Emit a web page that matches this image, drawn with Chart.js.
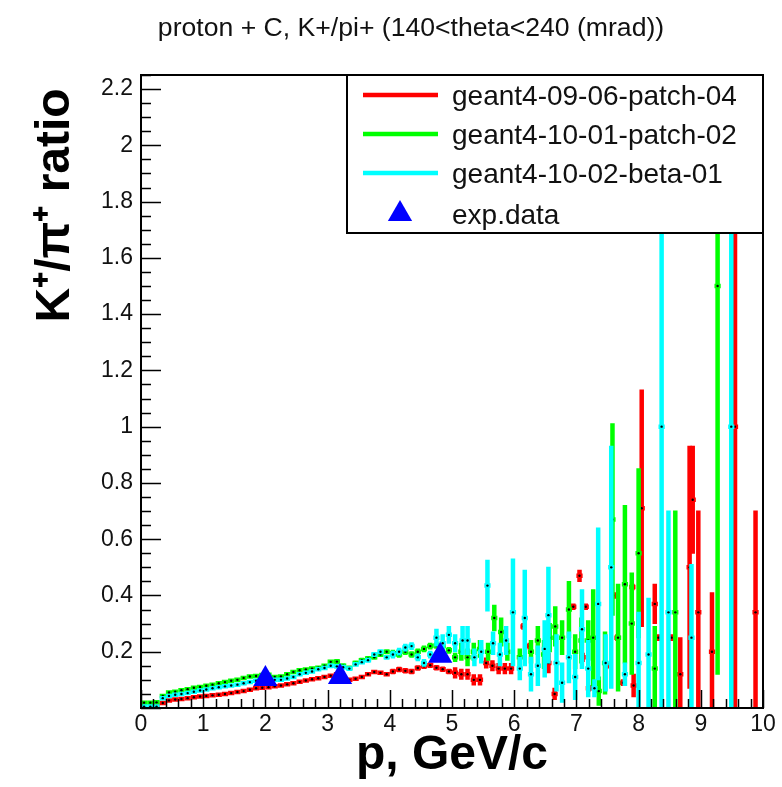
<!DOCTYPE html>
<html>
<head>
<meta charset="utf-8">
<script src="https://cdn.jsdelivr.net/npm/chart.js@4/dist/chart.umd.min.js"></script>
<style>
  html, body { margin: 0; padding: 0; background: #fff; }
  #wrap { width: 782px; height: 787px; }
</style>
</head>
<body>
<div id="wrap"><canvas id="ratioChart" width="782" height="787"></canvas></div>
<script>
const chartTitle = 'proton + C, K+/pi+ (140<theta<240 (mrad))'
const seriesNames = ['geant4-09-06-patch-04', 'geant4-10-01-patch-02', 'geant4-10-02-beta-01', 'exp.data']
const seriesColors = ['#ff0000', '#00ff00', '#00ffff', '#0000ff']
const xTicks = [0, 1, 2, 3, 4, 5, 6, 7, 8, 9, 10]
const yTicks = [0.2, 0.4, 0.6, 0.8, 1, 1.2, 1.4, 1.6, 1.8, 2, 2.2]
const binHalfWidth = 0.05

// geant4-09-06-patch-04
const redX = [0.25, 0.35, 0.45, 0.55, 0.65, 0.75, 0.85, 0.95,
  1.05, 1.15, 1.25, 1.35, 1.45, 1.55, 1.65, 1.75, 1.85, 1.95,
  2.05, 2.15, 2.25, 2.35, 2.45, 2.55, 2.65, 2.75, 2.85, 2.95,
  3.05, 3.15, 3.25, 3.35, 3.45, 3.55, 3.65, 3.75, 3.85, 3.95,
  4.05, 4.15, 4.25, 4.35, 4.45, 4.55, 4.65, 4.75, 4.85, 4.95,
  5.05, 5.15, 5.25, 5.35, 5.45, 5.55, 5.65, 5.75, 5.85, 5.95,
  6.15, 6.25, 6.55, 6.65, 6.95, 7.05, 7.1, 7.15, 7.2, 7.48, 7.6, 7.66, 7.75, 7.9, 7.92,
  8.05, 8.26, 8.32, 8.53, 8.67, 8.82, 8.87, 8.96, 9.18, 9.55, 9.88]
const redY = [0.008, 0.018, 0.027, 0.03, 0.032, 0.035, 0.038, 0.041,
  0.043, 0.045, 0.047, 0.05, 0.053, 0.057, 0.06, 0.065, 0.07, 0.072,
  0.074, 0.077, 0.08, 0.084, 0.088, 0.093, 0.098, 0.102, 0.106, 0.11,
  0.115, 0.12, 0.112, 0.1, 0.104, 0.11, 0.12, 0.128, 0.125, 0.12,
  0.13, 0.137, 0.132, 0.13, 0.142, 0.148, 0.152, 0.143, 0.138, 0.13,
  0.125, 0.12, 0.12, 0.1, 0.1, 0.16, 0.15, 0.14, 0.14, 0.14,
  0.29, 0.22, 0.16, 0.05, 0.36, 0.47, 0.18, 0.36, 0.07, 0.15, 0.4, 0.25, 0.09, 0.43, 0.08,
  0.71, 0.37, 0.25, 0.25, 0.12, 0.5, 0.74, 0.34, 0.2, 1.0, 0.34]
const redErr = [0.003, 0.003, 0.003, 0.003, 0.003, 0.003, 0.003, 0.003,
  0.004, 0.004, 0.004, 0.004, 0.004, 0.004, 0.004, 0.004, 0.004, 0.004,
  0.005, 0.005, 0.005, 0.005, 0.005, 0.005, 0.005, 0.005, 0.005, 0.005,
  0.006, 0.006, 0.006, 0.006, 0.006, 0.006, 0.006, 0.006, 0.006, 0.006,
  0.008, 0.008, 0.008, 0.008, 0.008, 0.008, 0.008, 0.008, 0.008, 0.008,
  0.018, 0.018, 0.018, 0.018, 0.018, 0.018, 0.018, 0.018, 0.018, 0.018,
  0.01, 0.01, 0.035, 0.02, 0.01, 0.02, 0.015, 0.01, 0.01, 0.01, 0.01, 0.01, 0.01, 0.01, 0.04,
  0.42, 0.07, 0.01, 0.01, 0.13, 0.43, 0.19, 0.36, 0.21, 1.0, 0.36]

// geant4-10-01-patch-02
const greenX = [0.05, 0.15, 0.25, 0.35, 0.45, 0.55, 0.65, 0.75, 0.85, 0.95,
  1.05, 1.15, 1.25, 1.35, 1.45, 1.55, 1.65, 1.75, 1.85, 1.95,
  2.05, 2.15, 2.25, 2.35, 2.45, 2.55, 2.65, 2.75, 2.85, 2.95,
  3.05, 3.15, 3.25, 3.35, 3.45, 3.55, 3.65, 3.75, 3.85, 3.95,
  4.05, 4.15, 4.25, 4.35, 4.45, 4.55, 4.65, 4.75, 4.85, 4.95, 5.05,
  5.15, 5.25, 5.35, 5.45, 5.58, 5.68, 5.79, 5.89, 6.09, 6.27, 6.38, 6.48, 6.57, 6.66,
  6.77, 6.88, 6.98, 7.08, 7.19, 7.27, 7.36, 7.46, 7.58, 7.67, 7.78, 7.89, 8.0, 8.26, 8.59, 9.27]
const greenY = [0.019, 0.019, 0.02, 0.043, 0.055, 0.058, 0.063, 0.067, 0.072, 0.075,
  0.079, 0.083, 0.088, 0.092, 0.097, 0.1, 0.107, 0.112, 0.114, 0.117,
  0.118, 0.11, 0.112, 0.12, 0.128, 0.134, 0.137, 0.14, 0.143, 0.15,
  0.164, 0.165, 0.15, 0.142, 0.16, 0.17, 0.176, 0.18, 0.19, 0.2,
  0.195, 0.19, 0.2, 0.19, 0.2, 0.21, 0.22, 0.222, 0.22, 0.205, 0.18,
  0.2, 0.18, 0.2, 0.21, 0.2, 0.32, 0.27, 0.2, 0.18, 0.2, 0.24, 0.19, 0.25, 0.29,
  0.25, 0.35, 0.2, 0.24, 0.24, 0.25, 0.06, 0.16, 0.67, 0.25, 0.44, 0.3, 0.55, 0.14, 0.34, 1.5]
const greenErr = [0.003, 0.003, 0.003, 0.003, 0.003, 0.003, 0.003, 0.003, 0.003, 0.003,
  0.004, 0.004, 0.004, 0.004, 0.004, 0.004, 0.004, 0.004, 0.004, 0.004,
  0.005, 0.005, 0.005, 0.005, 0.005, 0.005, 0.005, 0.005, 0.005, 0.005,
  0.007, 0.007, 0.007, 0.007, 0.007, 0.007, 0.007, 0.007, 0.007, 0.007,
  0.01, 0.01, 0.01, 0.01, 0.01, 0.01, 0.01, 0.01, 0.01, 0.01, 0.015,
  0.03, 0.03, 0.03, 0.03, 0.03, 0.045, 0.05, 0.03, 0.03, 0.04, 0.05, 0.05, 0.05, 0.07,
  0.06, 0.1, 0.06, 0.08, 0.07, 0.17, 0.05, 0.11, 0.34, 0.19, 0.28, 0.18, 0.3, 0.15, 0.36, 1.38]

// geant4-10-02-beta-01
const cyanX = [0.05, 0.15, 0.25, 0.35, 0.45, 0.55, 0.65, 0.75, 0.85, 0.95,
  1.05, 1.15, 1.25, 1.35, 1.45, 1.55, 1.65, 1.75, 1.85, 1.95,
  2.05, 2.15, 2.25, 2.35, 2.45, 2.55, 2.65, 2.75, 2.85, 2.95,
  3.05, 3.15, 3.25, 3.35, 3.45, 3.55, 3.65, 3.75, 3.85, 3.95,
  4.05, 4.15, 4.25, 4.35, 4.45, 4.55, 4.65, 4.75, 4.85, 4.95, 5.05,
  5.17, 5.25, 5.36, 5.47, 5.57, 5.66, 5.77, 5.87, 5.98, 6.09, 6.17, 6.27, 6.38, 6.49, 6.55, 6.68,
  6.77, 6.88, 6.98, 7.09, 7.19, 7.29, 7.35, 7.47, 7.56, 7.78, 8.0, 8.16, 8.37, 8.48, 8.85, 9.49]
const cyanY = [0.005, 0.005, 0.005, 0.035, 0.043, 0.047, 0.05, 0.053, 0.058, 0.062,
  0.066, 0.07, 0.074, 0.077, 0.08, 0.083, 0.088, 0.092, 0.097, 0.1,
  0.1, 0.1, 0.1, 0.105, 0.11, 0.12, 0.125, 0.13, 0.138, 0.142,
  0.15, 0.148, 0.145, 0.14, 0.155, 0.163, 0.17, 0.19, 0.2, 0.18,
  0.19, 0.2, 0.215, 0.22, 0.18, 0.16, 0.19, 0.25, 0.23, 0.26, 0.23,
  0.24, 0.24, 0.18, 0.2, 0.435, 0.23, 0.19, 0.24, 0.34, 0.14, 0.32, 0.12, 0.15, 0.21, 0.33, 0.16,
  0.09, 0.18, 0.11, 0.28, 0.14, 0.07, 0.37, 0.16, 0.5, 0.12, 0.16, 0.19, 1.0, 0.34, 0.25, 1.0]
const cyanErr = [0.003, 0.003, 0.003, 0.003, 0.003, 0.003, 0.003, 0.003, 0.003, 0.003,
  0.004, 0.004, 0.004, 0.004, 0.004, 0.004, 0.004, 0.004, 0.004, 0.004,
  0.005, 0.005, 0.005, 0.005, 0.005, 0.005, 0.005, 0.005, 0.005, 0.005,
  0.007, 0.007, 0.007, 0.007, 0.007, 0.007, 0.007, 0.007, 0.007, 0.007,
  0.012, 0.012, 0.012, 0.012, 0.012, 0.012, 0.012, 0.03, 0.03, 0.03, 0.03,
  0.05, 0.05, 0.03, 0.04, 0.09, 0.04, 0.04, 0.05, 0.19, 0.04, 0.17, 0.06, 0.07, 0.1, 0.17, 0.1,
  0.07, 0.09, 0.08, 0.14, 0.1, 0.03, 0.27, 0.1, 0.43, 0.04, 0.18, 0.2, 1.0, 0.36, 0.26, 1.0]

// exp.data
const expX = [2.0, 3.2, 4.81]
const expY = [0.103, 0.11, 0.186]

const FONT = '"Liberation Sans", Arial, Helvetica, sans-serif'
Chart.defaults.font.family = FONT
Chart.defaults.color = '#000'

function toPoints(xs, ys) {
    return xs.map((x, i) => ({ x: x, y: ys[i] }))
}

function histDataset(idx, xs, ys, errs, order) {
    return {
        label: seriesNames[idx],
        data: toPoints(xs, ys),
        errors: errs,
        barColor: seriesColors[idx],
        order: order,
        pointRadius: 1.2,
        pointBackgroundColor: '#000',
        pointBorderWidth: 0,
        showLine: false,
    }
}

// error bars (x = bin width, y = stat. error) drawn under each series' dots
const errorBars = {
    id: 'errorBars',
    beforeDatasetDraw(chart, args) {
        const ds = chart.data.datasets[args.index]
        if (!ds.errors) return
        const { ctx, chartArea } = chart
        const xs = chart.scales.x
        const ys = chart.scales.y
        ctx.save()
        ctx.beginPath()
        ctx.rect(chartArea.left, chartArea.top, chartArea.right - chartArea.left, chartArea.bottom - chartArea.top)
        ctx.clip()
        ctx.strokeStyle = ds.barColor
        ctx.lineWidth = 4.5
        ctx.lineCap = 'butt'
        ds.data.forEach((p, i) => {
            const e = ds.errors[i]
            const x0 = xs.getPixelForValue(p.x - binHalfWidth)
            const x1 = xs.getPixelForValue(p.x + binHalfWidth)
            const xc = xs.getPixelForValue(p.x)
            const yc = ys.getPixelForValue(p.y)
            ctx.beginPath()
            ctx.moveTo(x0, yc)
            ctx.lineTo(x1, yc)
            ctx.moveTo(xc, ys.getPixelForValue(p.y + e) - 0.5)
            ctx.lineTo(xc, ys.getPixelForValue(p.y - e) + 0.5)
            ctx.stroke()
        })
        ctx.restore()
    }
}

// ROOT-style frame with ticks inside, title and legend box
const frameAndLegend = {
    id: 'frameAndLegend',
    afterDatasetsDraw(chart) {
        const { ctx, chartArea } = chart
        const xs = chart.scales.x
        const ys = chart.scales.y
        const { left, right, top, bottom } = chartArea
        ctx.save()
        ctx.strokeStyle = '#000'
        ctx.lineWidth = 1.5
        ctx.beginPath()
        for (let v = 0; v <= 10.001; v += 0.2) {
            const px = Math.round(xs.getPixelForValue(v)) + 0.5
            const major = Math.abs(v - Math.round(v)) < 0.001
            ctx.moveTo(px, bottom)
            ctx.lineTo(px, bottom - (major ? 18 : 9))
        }
        for (let v = 0; v <= 2.25; v += 0.05) {
            const py = Math.round(ys.getPixelForValue(v)) + 0.5
            const major = Math.abs(v / 0.2 - Math.round(v / 0.2)) < 0.001
            ctx.moveTo(left, py)
            ctx.lineTo(left + (major ? 20 : 10), py)
        }
        ctx.stroke()
        ctx.lineWidth = 2
        ctx.strokeRect(left, top, right - left, bottom - top)

        // legend
        const lx = 347, ly = top, lw = right - 347, lh = 233 - top
        ctx.fillStyle = '#fff'
        ctx.fillRect(lx, ly, lw, lh)
        ctx.strokeStyle = '#000'
        ctx.lineWidth = 2
        ctx.strokeRect(lx, ly, lw, lh)
        const rows = [95, 134, 173, 214]
        ctx.font = '28px ' + FONT
        ctx.textAlign = 'left'
        ctx.textBaseline = 'alphabetic'
        seriesNames.forEach((name, i) => {
            const y = rows[i]
            if (i < 3) {
                ctx.strokeStyle = seriesColors[i]
                ctx.lineWidth = 4.5
                ctx.beginPath()
                ctx.moveTo(363, y)
                ctx.lineTo(438, y)
                ctx.stroke()
            } else {
                const r = 14
                ctx.fillStyle = seriesColors[i]
                ctx.beginPath()
                ctx.moveTo(400, y - r)
                ctx.lineTo(400 + r * 0.866, y + r / 2)
                ctx.lineTo(400 - r * 0.866, y + r / 2)
                ctx.closePath()
                ctx.fill()
            }
            ctx.fillStyle = '#111'
            ctx.fillText(name, 452, y + 10)
        })

        // title
        ctx.font = '26.6px ' + FONT
        ctx.textAlign = 'center'
        ctx.fillStyle = '#111'
        ctx.fillText(chartTitle, 411, 36)
        ctx.restore()
    }
}

const chartData = {
    datasets: [
        histDataset(0, redX, redY, redErr, 4),
        histDataset(1, greenX, greenY, greenErr, 3),
        histDataset(2, cyanX, cyanY, cyanErr, 2),
        {
            label: seriesNames[3],
            data: toPoints(expX, expY),
            order: 1,
            pointStyle: 'triangle',
            pointRadius: 14,
            pointBackgroundColor: seriesColors[3],
            pointBorderColor: seriesColors[3],
            pointBorderWidth: 0,
            showLine: false,
        },
    ],
}

new Chart(document.getElementById('ratioChart'), {
    type: 'scatter',
    data: chartData,
    options: {
        responsive: false,
        animation: false,
        events: [],
        layout: { padding: { top: 75, right: 19, left: 0, bottom: 0 } },
        plugins: {
            legend: { display: false },
            tooltip: { enabled: false },
            title: { display: false },
        },
        scales: {
            x: {
                type: 'linear',
                min: 0,
                max: 10,
                afterBuildTicks: s => { s.ticks = xTicks.map(v => ({ value: v })) },
                afterFit: s => { s.height = 79 },
                grid: { display: false, drawTicks: false },
                border: { display: false },
                ticks: { font: { size: 23 }, color: '#111', padding: 3, maxRotation: 0, autoSkip: false, callback: v => String(v) },
                title: { display: true, text: 'p, GeV/c', font: { size: 48, weight: 'bold' }, color: '#000', padding: { top: 0, bottom: 2 } },
            },
            y: {
                type: 'linear',
                min: 0,
                max: 2.25,
                afterBuildTicks: s => { s.ticks = yTicks.map(v => ({ value: v })) },
                afterFit: s => { s.width = 141 },
                grid: { display: false, drawTicks: false },
                border: { display: false },
                ticks: { font: { size: 23 }, color: '#111', padding: 8, autoSkip: false, callback: v => String(v) },
                title: { display: true, text: 'K⁺/π⁺ ratio ', align: 'end', font: { size: 48, weight: 'bold' }, color: '#000', padding: { top: 27, bottom: 0 } },
            },
        },
    },
    plugins: [errorBars, frameAndLegend],
})
</script>
</body>
</html>
